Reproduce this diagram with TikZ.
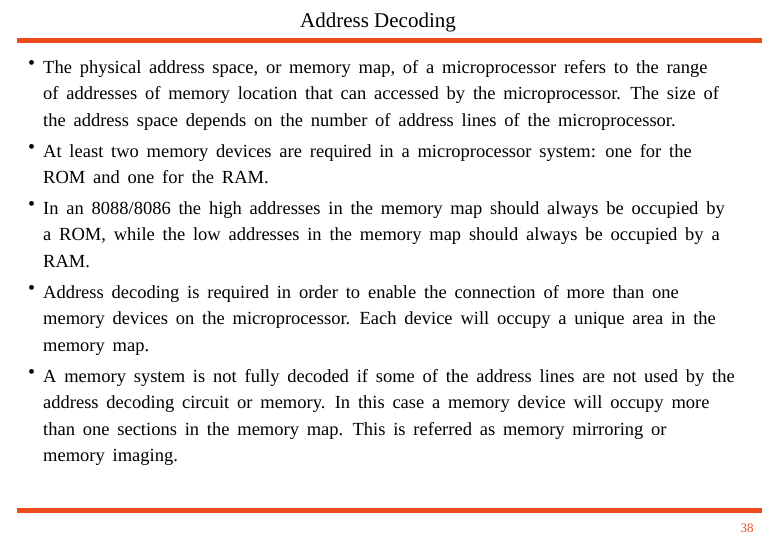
\documentclass[tikz,border=0pt]{standalone}
\usepackage{fontspec}
\setmainfont{Liberation Serif}
\definecolor{bar}{HTML}{EE4A1C}
\newcommand\widespace{\spaceskip=7.8pt plus 1pt minus 1pt\relax}
\newcommand\bul{\raisebox{-1.5pt}{\fontsize{20}{20}\selectfont•}}
\begin{document}
\begin{tikzpicture}[x=1pt,y=-1pt,
  body/.style={anchor=north west,inner sep=0,align=left,font=\fontsize{18.5}{26.5}\selectfont\widespace},
  dot/.style={anchor=north west,inner sep=0,font=\fontsize{18.5}{26.5}\selectfont}]
\useasboundingbox (0,0) rectangle (780,540);
\node[font=\fontsize{21}{24}\selectfont] (title) at (378,22) {Address Decoding};
\fill[bar] (17,38.5) rectangle (762,43.5);
\fill[bar] (17,507.5) rectangle (762,512.5);
\node[font=\fontsize{13}{15}\selectfont,text=bar] (pg) at (747,528) {38};
\node[dot] (d1) at (28,60) {\bul};
\node[body] (b1) at (43,60) {The physical address space, or memory map, of a microprocessor refers to the range\\of addresses of memory location that can accessed by the microprocessor. The size of\\the address space depends on the number of address lines of the microprocessor.};
\node[dot] (d2) at (28,144) {\bul};
\node[body] (b2) at (43,144) {At least two memory devices are required in a microprocessor system: one for the\\ROM and one for the RAM.};
\node[dot] (d3) at (28,201) {\bul};
\node[body] (b3) at (43,201) {In an 8088/8086 the high addresses in the memory map should always be occupied by\\a ROM, while the low addresses in the memory map should always be occupied by a\\RAM.};
\node[dot] (d4) at (28,285) {\bul};
\node[body] (b4) at (43,285) {Address decoding is required in order to enable the connection of more than one\\memory devices on the microprocessor. Each device will occupy a unique area in the\\memory map.};
\node[dot] (d5) at (28,369) {\bul};
\node[body] (b5) at (43,369) {A memory system is not fully decoded if some of the address lines are not used by the\\address decoding circuit or memory. In this case a memory device will occupy more\\than one sections in the memory map. This is referred as memory mirroring or\\memory imaging.};
\end{tikzpicture}
\end{document}
